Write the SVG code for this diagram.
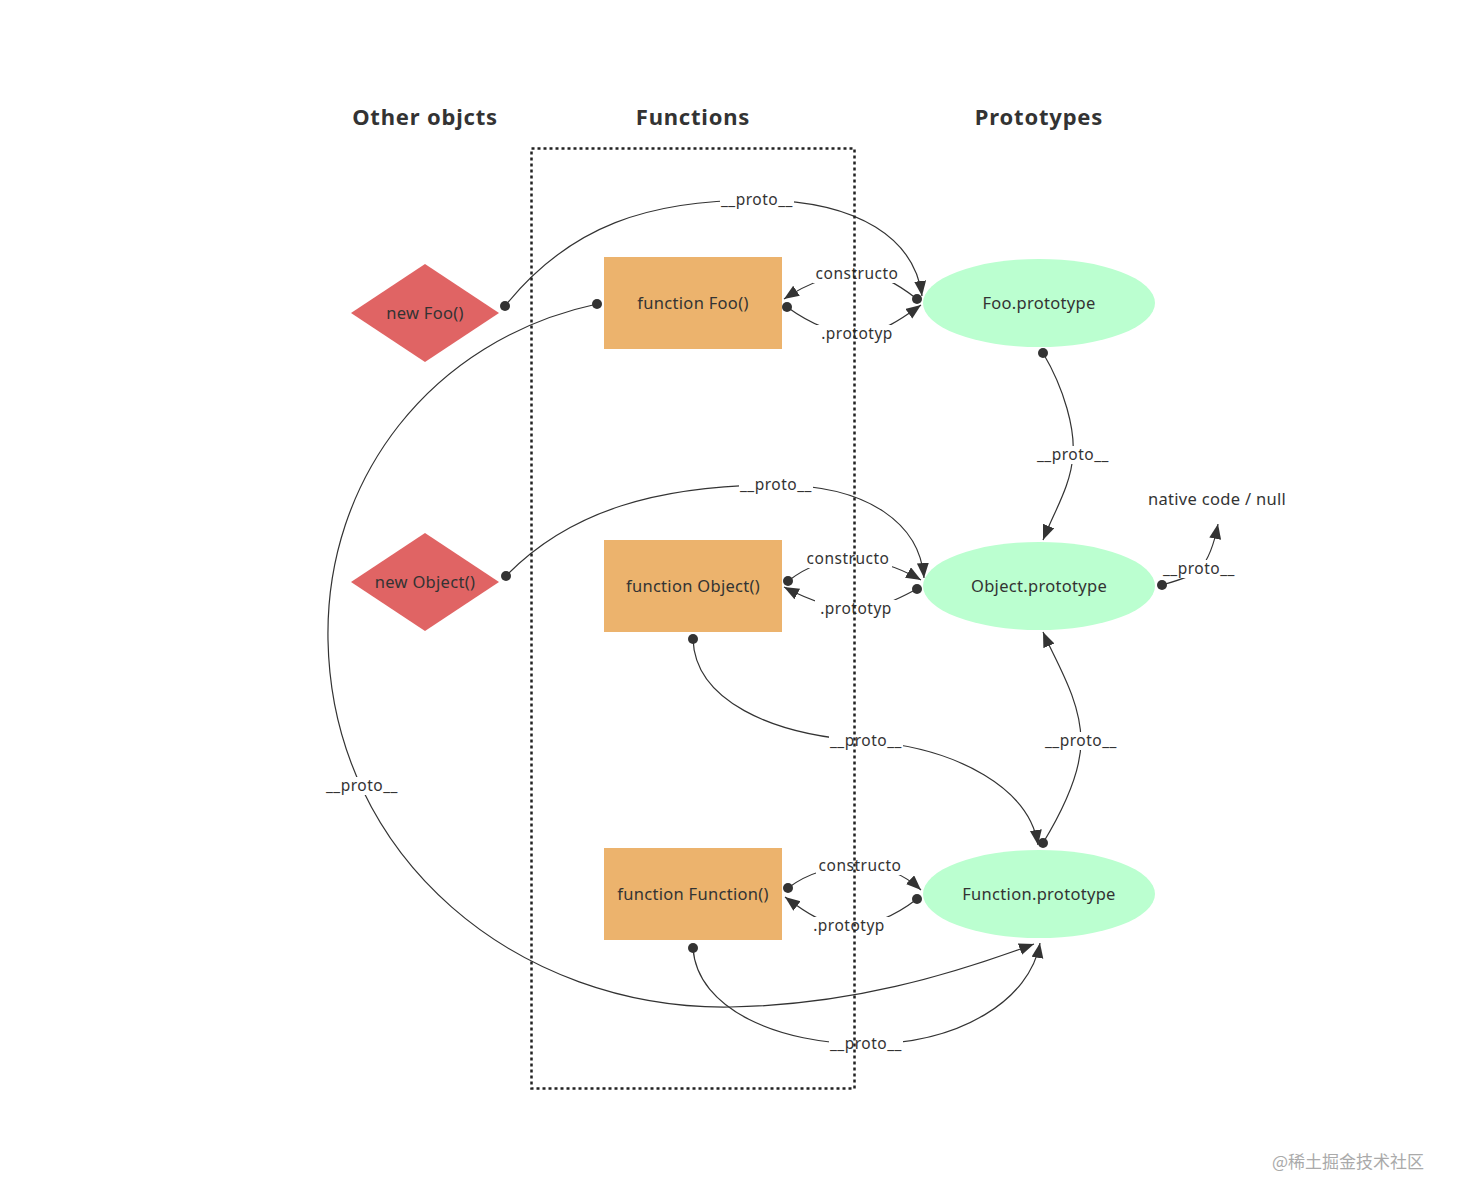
<svg xmlns="http://www.w3.org/2000/svg" width="1459" height="1203" viewBox="0 0 1459 1203">
<defs>
<style>
.h{font-family:"Noto Sans","Liberation Sans",sans-serif;font-weight:bold;font-size:22px;letter-spacing:0.8px;fill:#333;text-anchor:middle}
.n{font-family:"Noto Sans","Liberation Sans",sans-serif;font-size:16.5px;letter-spacing:0.3px;fill:#333;text-anchor:middle}
.l{font-family:"Noto Sans","Liberation Sans",sans-serif;font-size:15.5px;letter-spacing:0.5px;fill:#333;text-anchor:middle}
.e{fill:none;stroke:#333;stroke-width:1.2;marker-start:url(#dot);marker-end:url(#arr)}
.lb{fill:#fff}
.dia{fill:#E06464}
.fn{fill:#ECB36D}
.pr{fill:#BBFFD0}
</style>
<marker id="arr" markerUnits="userSpaceOnUse" markerWidth="18" markerHeight="14" refX="15" refY="6" orient="auto"><path d="M0,0 L15,6 L0,12 z" fill="#333"/></marker>
<marker id="dot" markerUnits="userSpaceOnUse" markerWidth="12" markerHeight="12" refX="6" refY="6"><circle cx="6" cy="6" r="5" fill="#333"/></marker>
</defs>
<rect width="1459" height="1203" fill="#fff"/>
<g id="headings">
<text class="h" x="425" y="125">Other objcts</text>
<text class="h" x="693" y="125">Functions</text>
<text class="h" x="1039" y="125">Prototypes</text>
</g>
<g id="connectors">
<path class="e" d="M505,306 C570,225 650,200 757,200 C860,200 915,240 922,296"/>
<path class="e" d="M597,304 C430,340 325,480 328,640 C332,860 520,1010 730,1007 C850,1005 950,975 1034,944"/>
<path class="e" d="M917,299 C895,282 880,274 857,274 C830,274 805,285 784,299"/>
<path class="e" d="M787,307 C805,320 830,334 857,334 C880,334 900,320 921,305"/>
<path class="e" d="M1043,353 C1065,390 1075,430 1073,455 C1071,485 1055,510 1043,540"/>
<path class="e" d="M506,576 C570,510 660,485 776,485 C870,485 920,525 924,578"/>
<path class="e" d="M788,581 C805,568 825,559 848,559 C875,559 900,568 921,580"/>
<path class="e" d="M917,589 C900,598 880,609 856,609 C830,609 805,598 784,587"/>
<path class="e" d="M1162,585 C1180,580 1195,575 1200,569 C1208,560 1214,545 1218,524"/>
<path class="e" d="M693,639 C695,700 770,735 866,741 C960,748 1030,790 1038,845"/>
<path class="e" d="M1043,843 C1060,815 1081,775 1081,741 C1081,700 1055,660 1043,632"/>
<path class="e" d="M788,888 C805,875 830,866 860,866 C885,866 905,875 921,890"/>
<path class="e" d="M917,899 C900,912 875,926 849,926 C825,926 805,912 785,897"/>
<path class="e" d="M693,948 C697,1010 780,1044 866,1044 C960,1044 1030,1000 1040,943"/>
<g id="labels">
<rect class="lb" x="720" y="191" width="74" height="18"/><text class="l" x="757" y="205">__proto__</text>
<rect class="lb" x="325" y="777" width="74" height="18"/><text class="l" x="362" y="791">__proto__</text>
<rect class="lb" x="813" y="265" width="88" height="18"/><text class="l" x="857" y="279">constructo</text>
<rect class="lb" x="816" y="325" width="82" height="18"/><text class="l" x="857" y="339">.prototyp</text>
<rect class="lb" x="1036" y="446" width="74" height="18"/><text class="l" x="1073" y="460">__proto__</text>
<rect class="lb" x="739" y="476" width="74" height="18"/><text class="l" x="776" y="490">__proto__</text>
<rect class="lb" x="804" y="550" width="88" height="18"/><text class="l" x="848" y="564">constructo</text>
<rect class="lb" x="815" y="600" width="82" height="18"/><text class="l" x="856" y="614">.prototyp</text>
<rect class="lb" x="1162" y="560" width="74" height="18"/><text class="l" x="1199" y="574">__proto__</text>
<rect class="lb" x="829" y="732" width="74" height="18"/><text class="l" x="866" y="746">__proto__</text>
<rect class="lb" x="1044" y="732" width="74" height="18"/><text class="l" x="1081" y="746">__proto__</text>
<rect class="lb" x="816" y="857" width="88" height="18"/><text class="l" x="860" y="871">constructo</text>
<rect class="lb" x="808" y="917" width="82" height="18"/><text class="l" x="849" y="931">.prototyp</text>
<rect class="lb" x="829" y="1035" width="74" height="18"/><text class="l" x="866" y="1049">__proto__</text>
</g>
</g>
<rect id="functions-box" x="531.5" y="148.5" width="323" height="940" fill="none" stroke="#222" stroke-width="2.5" stroke-dasharray="3,3"/>
<g id="new-foo"><polygon class="dia" points="425,264 499,313 425,362 351,313"/><text class="n" x="425" y="319">new Foo()</text></g>
<g id="new-object"><polygon class="dia" points="425,533 499,582 425,631 351,582"/><text class="n" x="425" y="588">new Object()</text></g>
<g id="function-foo"><rect class="fn" x="604" y="257" width="178" height="92"/><text class="n" x="693" y="309">function Foo()</text></g>
<g id="function-object"><rect class="fn" x="604" y="540" width="178" height="92"/><text class="n" x="693" y="592">function Object()</text></g>
<g id="function-function"><rect class="fn" x="604" y="848" width="178" height="92"/><text class="n" x="693" y="900">function Function()</text></g>
<g id="foo-prototype"><ellipse class="pr" cx="1039" cy="303" rx="116" ry="44"/><text class="n" x="1039" y="309">Foo.prototype</text></g>
<g id="object-prototype"><ellipse class="pr" cx="1039" cy="586" rx="116" ry="44"/><text class="n" x="1039" y="592">Object.prototype</text></g>
<g id="function-prototype"><ellipse class="pr" cx="1039" cy="894" rx="116" ry="44"/><text class="n" x="1039" y="900">Function.prototype</text></g>
<g id="native"><text class="n" x="1217" y="505">native code / null</text></g>
<text x="1348" y="1168" font-family="Noto Sans CJK SC, sans-serif" font-size="17" fill="#aaa" text-anchor="middle">@稀土掘金技术社区</text>
</svg>
